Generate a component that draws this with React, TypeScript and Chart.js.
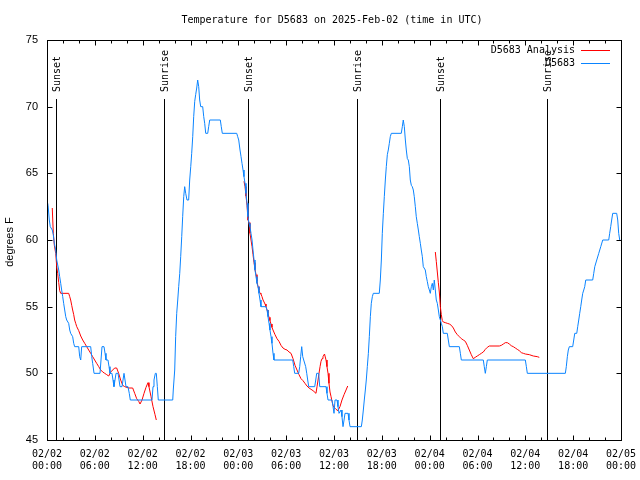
import React, { useEffect, useRef } from "react";
import { Chart, registerables } from "chart.js";

Chart.register(...registerables);

const TITLE = "Temperature for D5683 on 2025-Feb-02 (time in UTC)";
const Y_TITLE = "degrees F";
const SERIES_NAMES = ["D5683 Analysis", "D5683"];
const SERIES_COLORS = ["#ff0000", "#0a84ff"];

// x axis: hours since 02/02 00:00 UTC
const X_MIN = 0;
const X_MAX = 72;
const X_STEP = 6;
const X_MINOR_STEP = 2;
const xTickLabels = [
  ["02/02", "00:00"], ["02/02", "06:00"], ["02/02", "12:00"], ["02/02", "18:00"],
  ["02/03", "00:00"], ["02/03", "06:00"], ["02/03", "12:00"], ["02/03", "18:00"],
  ["02/04", "00:00"], ["02/04", "06:00"], ["02/04", "12:00"], ["02/04", "18:00"],
  ["02/05", "00:00"],
];
const Y_MIN = 45;
const Y_MAX = 75;
const Y_STEP = 5;

// sunrise / sunset markers (hours)
const sunHours = [1.17, 14.71, 25.25, 38.85, 49.34, 62.76];
const sunLabels = ["Sunset", "Sunrise", "Sunset", "Sunrise", "Sunset", "Sunrise"];
const SUN_LINE_TOP = 70.6;

// observations [hour, degF]
const obsNight1 = [
  [0.0, 63.0], [0.13, 62.6], [0.29, 61.5], [0.41, 61.0], [0.66, 60.75], [0.79, 60.4], [0.92, 59.75],
  [1.09, 59.25], [1.22, 58.5], [1.47, 57.75], [1.59, 57.25], [1.72, 56.75], [1.84, 56.25], [1.97, 55.75],
  [2.09, 55.25], [2.22, 54.75], [2.35, 54.25], [2.47, 54.0], [2.72, 53.75], [2.85, 53.25], [2.97, 53.0],
  [3.22, 52.75], [3.35, 52.25], [3.47, 52.0], [3.98, 52.0], [4.1, 51.25], [4.23, 51.0], [4.35, 52.0],
  [5.48, 52.0], [5.61, 51.25], [5.73, 50.75], [5.9, 50.0], [6.65, 50.0], [6.9, 52.0], [7.15, 52.0],
  [7.28, 51.5], [7.4, 51.0], [7.65, 51.0], [7.78, 50.5], [7.9, 50.0], [8.15, 50.0], [8.28, 49.5],
  [8.4, 49.0], [8.66, 50.0], [8.91, 50.0], [9.16, 49.0], [9.41, 49.0], [9.66, 50.0], [9.91, 49.0],
  [10.16, 49.0], [10.32, 48.5], [10.45, 48.0], [13.17, 48.0], [13.3, 49.0], [13.42, 49.5], [13.59, 50.0],
  [13.71, 50.0], [13.84, 49.0], [13.96, 48.0],
];
const obsDay1 = [
  [15.77, 48.0], [15.84, 48.75], [16.02, 50.25], [16.14, 52.75], [16.27, 54.5], [16.4, 55.5], [16.52, 56.5],
  [16.65, 57.5], [16.77, 58.75], [16.9, 60.25], [17.02, 61.75], [17.15, 63.25], [17.27, 64.0], [17.4, 63.5],
  [17.56, 63.0], [17.77, 63.0], [17.9, 64.5], [18.03, 65.5], [18.15, 66.5], [18.28, 67.75], [18.4, 69.25],
  [18.53, 70.4], [18.65, 70.9], [18.78, 71.4], [18.9, 72.0], [19.03, 71.5], [19.15, 70.5], [19.28, 70.0],
  [19.53, 70.0], [19.66, 69.25], [19.78, 68.75], [19.91, 68.0], [20.16, 68.0], [20.28, 68.5], [20.41, 69.0],
  [21.74, 69.0], [21.86, 68.5], [21.99, 68.0], [23.8, 68.0], [23.92, 67.75],
];
const obsNight2 = [
  [24.05, 67.5], [24.21, 66.75], [24.34, 66.25], [24.46, 65.75], [24.59, 65.25], [24.71, 64.75],
  [24.84, 64.25], [24.96, 63.5], [25.09, 62.75], [25.21, 61.75], [25.34, 61.25], [25.46, 61.0],
  [25.59, 60.5], [25.72, 60.0], [25.84, 59.25], [25.97, 58.5], [26.09, 57.75], [26.22, 57.25],
  [26.34, 56.75], [26.47, 56.5], [26.59, 56.0], [26.72, 55.5], [26.84, 55.0], [27.47, 55.0],
  [27.6, 54.75], [27.72, 54.25], [27.85, 53.75], [27.97, 53.25], [28.1, 52.75], [28.22, 52.25],
  [28.35, 51.5], [28.47, 51.0], [30.82, 51.0], [30.95, 50.5], [31.07, 50.0], [31.57, 50.0],
  [31.7, 50.5], [31.82, 51.25], [31.95, 52.0], [32.08, 51.25], [32.2, 51.0], [32.45, 50.5],
  [32.58, 50.0], [32.7, 49.5], [32.83, 49.0], [33.58, 49.0], [33.71, 49.5], [33.83, 50.0],
  [34.08, 50.0], [34.21, 49.0], [35.0, 49.0], [35.12, 48.5], [35.25, 48.0], [35.75, 48.0],
  [35.88, 47.5], [36.0, 47.0], [36.13, 48.0], [36.38, 48.0], [36.5, 47.5], [36.63, 47.0],
  [36.88, 47.25], [37.0, 46.75], [37.13, 46.0], [37.26, 46.5], [37.38, 47.0], [37.76, 47.0],
  [37.88, 46.5], [38.01, 46.0],
];
const obsDay2 = [
  [39.43, 46.0], [39.55, 46.5], [39.68, 47.25], [39.8, 48.0], [39.93, 48.75], [40.05, 49.5],
  [40.18, 50.5], [40.31, 51.5], [40.43, 52.75], [40.56, 54.25], [40.68, 55.25], [40.81, 55.75],
  [40.93, 56.0], [41.68, 56.0], [41.81, 57.0], [41.94, 58.5], [42.06, 60.5], [42.19, 62.0],
  [42.31, 63.25], [42.44, 64.5], [42.56, 65.5], [42.69, 66.4], [42.81, 66.75], [42.94, 67.25],
  [43.06, 67.75], [43.19, 68.0], [44.44, 68.0], [44.57, 68.5], [44.69, 69.0], [44.82, 68.5],
  [44.95, 67.5], [45.07, 66.75], [45.2, 66.1], [45.32, 66.0], [45.45, 65.5], [45.57, 64.5],
  [45.7, 64.1], [45.82, 64.0], [45.95, 63.75], [46.07, 63.25], [46.2, 62.5], [46.32, 61.75],
  [46.45, 61.25], [46.58, 60.75], [46.7, 60.25], [46.83, 59.75], [46.95, 59.25], [47.08, 58.75],
  [47.2, 58.0], [47.45, 57.75], [47.58, 57.25], [47.7, 56.9], [47.83, 56.5], [47.96, 56.25],
  [48.08, 56.0], [48.21, 56.5], [48.33, 56.75], [48.46, 56.25], [48.58, 57.0], [48.71, 56.25],
  [48.83, 55.5], [48.96, 55.25], [49.09, 54.75], [49.21, 54.25], [49.34, 54.0], [49.46, 53.75],
  [49.59, 53.5], [49.71, 53.0],
];
const obsNight3 = [
  [50.21, 53.0], [50.34, 52.5], [50.47, 52.0], [51.72, 52.0], [51.85, 51.5], [51.97, 51.0],
  [54.73, 51.0], [54.85, 50.5], [54.98, 50.0], [55.11, 50.5], [55.23, 51.0], [60.0, 51.0],
  [60.13, 50.5], [60.25, 50.0], [65.02, 50.0],
];
const obsDay3 = [
  [65.14, 50.5], [65.27, 51.25], [65.39, 51.75], [65.52, 52.0], [65.94, 52.0], [66.07, 52.5],
  [66.2, 53.0], [66.45, 53.0], [66.57, 53.5], [66.7, 54.0], [66.82, 54.5], [66.95, 55.0],
  [67.07, 55.5], [67.2, 56.0], [67.33, 56.25], [67.45, 56.5], [67.58, 57.0], [68.45, 57.0],
  [68.58, 57.5], [68.71, 58.0], [68.96, 58.5], [69.21, 59.0], [69.46, 59.5], [69.71, 60.0],
  [70.46, 60.0], [70.58, 60.5], [70.71, 61.0], [70.83, 61.5], [70.96, 62.0], [71.46, 62.0],
  [71.59, 61.5], [71.71, 60.5], [71.84, 60.0],
];

// analysis [hour, degF]
const anaNight1 = [
  [0.66, 62.4], [0.79, 60.5], [0.92, 59.6], [1.09, 59.0], [1.22, 58.0], [1.34, 57.5], [1.47, 56.8],
  [1.59, 56.2], [1.72, 56.0], [2.72, 56.0], [2.85, 55.75], [2.97, 55.5], [3.1, 55.1], [3.22, 54.75],
  [3.35, 54.4], [3.47, 54.0], [3.6, 53.75], [3.73, 53.5], [3.98, 53.2], [4.23, 52.8], [4.48, 52.5],
  [4.73, 52.25], [4.98, 52.0], [5.23, 51.75], [5.48, 51.5], [5.73, 51.25], [5.98, 51.0], [6.23, 50.75],
  [6.49, 50.5], [6.74, 50.25], [6.99, 50.1], [7.24, 50.0], [7.49, 49.9], [7.74, 49.8], [7.99, 50.1],
  [8.24, 50.25], [8.49, 50.4], [8.74, 50.4], [8.99, 50.0], [9.24, 49.5], [9.5, 49.1], [9.75, 49.0],
  [10.25, 48.9], [10.75, 48.9], [11.0, 48.5], [11.25, 48.1], [11.5, 47.9], [11.67, 47.7], [11.92, 48.0],
  [12.17, 48.5], [12.42, 48.95], [12.67, 49.3], [12.79, 49.0], [13.05, 48.25], [13.3, 47.5],
  [13.55, 46.9], [13.71, 46.5],
];
const anaNight2 = [
  [24.71, 64.4], [24.84, 64.0], [24.96, 63.3], [25.09, 62.6], [25.21, 61.5], [25.34, 61.3], [25.46, 60.5],
  [25.59, 60.0], [25.72, 59.5], [25.84, 58.9], [25.97, 58.3], [26.09, 57.8], [26.22, 57.4], [26.34, 56.9],
  [26.47, 56.5], [26.59, 56.25], [26.72, 56.0], [26.84, 55.95], [26.97, 55.75], [27.1, 55.5], [27.35, 55.2],
  [27.47, 55.0], [27.6, 54.75], [27.72, 54.5], [27.85, 54.2], [27.97, 53.95], [28.1, 53.7], [28.22, 53.45],
  [28.35, 53.25], [28.6, 52.9], [28.85, 52.6], [29.1, 52.4], [29.35, 52.1], [29.6, 51.9], [29.86, 51.8],
  [30.11, 51.75], [30.36, 51.6], [30.61, 51.5], [30.86, 51.1], [31.11, 50.6], [31.36, 50.25], [31.61, 49.9],
  [31.86, 49.6], [32.11, 49.45], [32.36, 49.25], [32.61, 49.05], [32.87, 48.9], [33.12, 48.8], [33.37, 48.7],
  [33.74, 48.5], [33.87, 49.0], [34.0, 49.5], [34.12, 50.0], [34.25, 50.5], [34.37, 50.9], [34.5, 51.1],
  [34.62, 51.25], [34.81, 51.45], [35.0, 51.0], [35.12, 50.5], [35.25, 50.0], [35.37, 49.25], [35.5, 48.6],
  [35.63, 48.25], [35.75, 47.9], [35.88, 47.6], [36.0, 47.45], [36.25, 47.3], [36.5, 47.2], [36.75, 47.5],
  [37.0, 48.0], [37.26, 48.4], [37.51, 48.75], [37.72, 49.05],
];
const anaNight3 = [
  [48.71, 59.1], [48.83, 58.4], [48.96, 57.6], [49.09, 56.8], [49.21, 56.1], [49.34, 55.0], [49.46, 54.4],
  [49.59, 53.95], [49.71, 53.85], [49.96, 53.8], [50.21, 53.75], [50.47, 53.7], [50.72, 53.6], [50.97, 53.4],
  [51.22, 53.1], [51.47, 52.9], [51.72, 52.75], [51.97, 52.6], [52.22, 52.5], [52.47, 52.4], [52.72, 52.1],
  [52.97, 51.75], [53.22, 51.4], [53.47, 51.1], [53.72, 51.2], [53.97, 51.3], [54.23, 51.4], [54.48, 51.5],
  [54.73, 51.6], [54.98, 51.8], [55.23, 51.95], [55.48, 52.05], [56.74, 52.05], [56.99, 52.1], [57.24, 52.2],
  [57.49, 52.3], [57.74, 52.3], [57.99, 52.2], [58.24, 52.07], [58.49, 52.0], [58.74, 51.9], [58.99, 51.8],
  [59.24, 51.7], [59.5, 51.55], [59.75, 51.5], [60.0, 51.45], [60.5, 51.4], [61.0, 51.3], [61.5, 51.25],
  [61.75, 51.2],
];

const MONO = "10px 'DejaVu Sans Mono', monospace";
const SANS = "11px 'Liberation Sans', Arial, sans-serif";

function toPoints(rows: number[][]) {
  return rows.map((r) => ({ x: r[0], y: r[1] }));
}

function withGaps(segments: number[][][]) {
  const out: { x: number; y: number | null }[] = [];
  segments.forEach((seg, i) => {
    if (i > 0) {
      const prev = segments[i - 1];
      out.push({ x: (prev[prev.length - 1][0] + seg[0][0]) / 2, y: null });
    }
    out.push(...toPoints(seg));
  });
  return out;
}

const decorPlugin = {
  id: "gnuplotDecor",
  beforeDatasetsDraw(chart: any) {
    const { ctx, chartArea: a, scales } = chart;
    const xs = scales.x;
    const ys = scales.y;
    ctx.save();
    ctx.strokeStyle = "#000";
    ctx.fillStyle = "#000";
    ctx.lineWidth = 1;
    const topY = Math.round(ys.getPixelForValue(SUN_LINE_TOP));
    sunHours.forEach((h, i) => {
      const px = Math.round(xs.getPixelForValue(h)) + 0.5;
      ctx.beginPath();
      ctx.moveTo(px, topY);
      ctx.lineTo(px, a.bottom);
      ctx.stroke();
      ctx.save();
      ctx.translate(px + 1, topY - 7);
      ctx.rotate(-Math.PI / 2);
      ctx.font = MONO;
      ctx.textAlign = "left";
      ctx.textBaseline = "middle";
      ctx.fillText(sunLabels[i], 0, 0);
      ctx.restore();
    });
    ctx.restore();
  },
  afterDraw(chart: any) {
    const { ctx, chartArea: a, scales } = chart;
    const xs = scales.x;
    const ys = scales.y;
    ctx.save();
    ctx.strokeStyle = "#000";
    ctx.fillStyle = "#000";
    ctx.lineWidth = 1;
    const L = Math.round(a.left) + 0.5;
    const R = Math.round(a.right) + 0.5;
    const T = Math.round(a.top) + 0.5;
    const B = Math.round(a.bottom) + 0.5;
    // border
    ctx.strokeRect(L, T, R - L, B - T);
    // x ticks (inward, mirrored)
    ctx.beginPath();
    for (let h = X_MIN; h <= X_MAX; h += X_MINOR_STEP) {
      const len = h % X_STEP === 0 ? 5 : 3;
      const px = Math.round(xs.getPixelForValue(h)) + 0.5;
      ctx.moveTo(px, B);
      ctx.lineTo(px, B - len);
      ctx.moveTo(px, T);
      ctx.lineTo(px, T + len);
    }
    for (let v = Y_MIN; v <= Y_MAX; v += Y_STEP) {
      const py = Math.round(ys.getPixelForValue(v)) + 0.5;
      ctx.moveTo(L, py);
      ctx.lineTo(L + 5, py);
      ctx.moveTo(R, py);
      ctx.lineTo(R - 5, py);
    }
    ctx.stroke();

    // title
    ctx.font = MONO;
    ctx.textAlign = "center";
    ctx.textBaseline = "middle";
    ctx.fillText(TITLE, (a.left + a.right) / 2 - 2, a.top - 19.5);

    // y title
    ctx.save();
    ctx.translate(10, (a.top + a.bottom) / 2 + 2);
    ctx.rotate(-Math.PI / 2);
    ctx.font = SANS;
    ctx.textAlign = "center";
    ctx.textBaseline = "middle";
    ctx.fillText(Y_TITLE, 0, 0);
    ctx.restore();

    // legend
    ctx.font = MONO;
    ctx.textAlign = "right";
    ctx.textBaseline = "middle";
    SERIES_NAMES.forEach((name, i) => {
      const y = Math.round(a.top + 9.5 + i * 13) + 0.5;
      ctx.fillStyle = "#000";
      ctx.fillText(name, a.right - 46, y);
      ctx.strokeStyle = SERIES_COLORS[i];
      ctx.beginPath();
      ctx.moveTo(a.right - 40, y);
      ctx.lineTo(a.right - 11, y);
      ctx.stroke();
    });
    ctx.restore();
  },
};

export default function App() {
  const canvasRef = useRef<HTMLCanvasElement | null>(null);

  useEffect(() => {
    const canvas = canvasRef.current;
    if (!canvas) return;
    const obsData = toPoints([...obsNight1, ...obsDay1, ...obsNight2, ...obsDay2, ...obsNight3, ...obsDay3]);
    const anaData = withGaps([anaNight1, anaNight2, anaNight3]);
    const chart = new Chart(canvas, {
      type: "line",
      data: {
        datasets: [
          {
            label: SERIES_NAMES[1],
            data: obsData,
            borderColor: SERIES_COLORS[1],
            borderWidth: 1,
            pointRadius: 0,
            tension: 0,
            fill: false,
          },
          {
            label: SERIES_NAMES[0],
            data: anaData,
            borderColor: SERIES_COLORS[0],
            borderWidth: 1,
            pointRadius: 0,
            tension: 0,
            fill: false,
            spanGaps: false,
          },
        ],
      },
      options: {
        responsive: false,
        animation: false,
        devicePixelRatio: 1,
        layout: { padding: { top: 40, right: 19, left: 0, bottom: 0 } },
        plugins: {
          legend: { display: false },
          title: { display: false },
          tooltip: { enabled: false },
        },
        scales: {
          x: {
            type: "linear",
            min: X_MIN,
            max: X_MAX,
            afterFit: (s: any) => {
              s.height = 40;
              s.paddingLeft = 0;
              s.paddingRight = 0;
            },
            ticks: {
              stepSize: X_STEP,
              autoSkip: false,
              maxRotation: 0,
              minRotation: 0,
              padding: 8,
              color: "#000",
              font: { family: "'DejaVu Sans Mono', monospace", size: 10, lineHeight: 1.2 },
              callback: (v: any) => xTickLabels[Math.round((Number(v) - X_MIN) / X_STEP)] ?? "",
            },
            grid: { display: false, drawTicks: false },
            border: { display: false },
          },
          y: {
            type: "linear",
            min: Y_MIN,
            max: Y_MAX,
            afterFit: (s: any) => {
              s.width = 47;
              s.paddingTop = 0;
              s.paddingBottom = 0;
            },
            ticks: {
              stepSize: Y_STEP,
              padding: 9,
              color: "#000",
              font: { family: "'Liberation Sans', Arial, sans-serif", size: 11 },
            },
            grid: { display: false, drawTicks: false },
            border: { display: false },
          },
        },
      },
      plugins: [decorPlugin],
    });
    return () => chart.destroy();
  }, []);

  return (
    <canvas
      ref={canvasRef}
      width={640}
      height={480}
      style={{ position: "fixed", left: 0, top: 0, width: 640, height: 480, background: "#fff" }}
    />
  );
}
